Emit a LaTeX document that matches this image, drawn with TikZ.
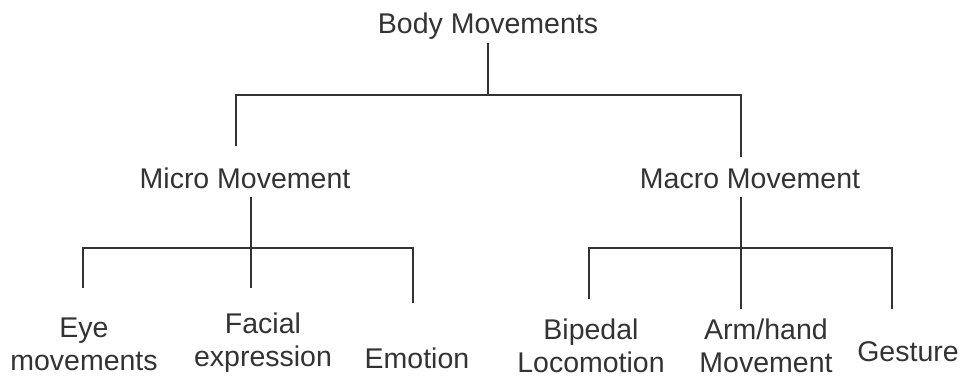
\documentclass[tikz,border=0pt]{standalone}
\usepackage{fontspec}
\setmainfont{Liberation Sans}
\definecolor{ink}{HTML}{333333}
\begin{document}
\begin{tikzpicture}[x=1pt,y=-1pt,
  lbl/.style={inner sep=0pt, anchor=base, align=center, text=ink,
    font=\fontsize{28.5}{33}\selectfont},
  conn/.style={draw=ink, line width=1.8pt}]
\useasboundingbox (0,0) rectangle (961,376);
% labels (two-line labels: base anchor is on the last line)
\node[lbl] (body) at (488,33) {Body Movements};
\node[lbl] (micro) at (245,188) {Micro Movement};
\node[lbl] (macro) at (750,188) {Macro Movement};
\node[lbl] (eye) at (84,370) {Eye\\movements};
\node[lbl] (facial) at (263,366) {Facial\\expression};
\node[lbl] (emotion) at (417,368) {Emotion};
\node[lbl] (biped) at (591,372) {Bipedal\\Locomotion};
\node[lbl] (arm) at (766,372) {Arm/hand\\Movement};
\node[lbl] (gest) at (908,361) {Gesture};
% junction and end coordinates
\coordinate (bTop) at (488,43);
\coordinate (bJ) at (488,95);
\coordinate (miTop) at (236,146);
\coordinate (maTop) at (741,157);
\coordinate (miA) at (251,197);
\coordinate (miJ) at (251,248);
\coordinate (miB) at (251,288);
\coordinate (eyeTop) at (83,288);
\coordinate (emoTop) at (413,303);
\coordinate (maA) at (741,197);
\coordinate (maJ) at (741,248);
\coordinate (maB) at (741,309);
\coordinate (bipTop) at (589,299);
\coordinate (gesTop) at (892,309);
% connectors
\draw[conn] (bTop) -- (bJ);
\draw[conn] (miTop) |- (bJ) -| (maTop);
\draw[conn] (miA) -- (miB);
\draw[conn] (eyeTop) |- (miJ) -| (emoTop);
\draw[conn] (maA) -- (maB);
\draw[conn] (bipTop) |- (maJ) -| (gesTop);
\end{tikzpicture}
\end{document}
